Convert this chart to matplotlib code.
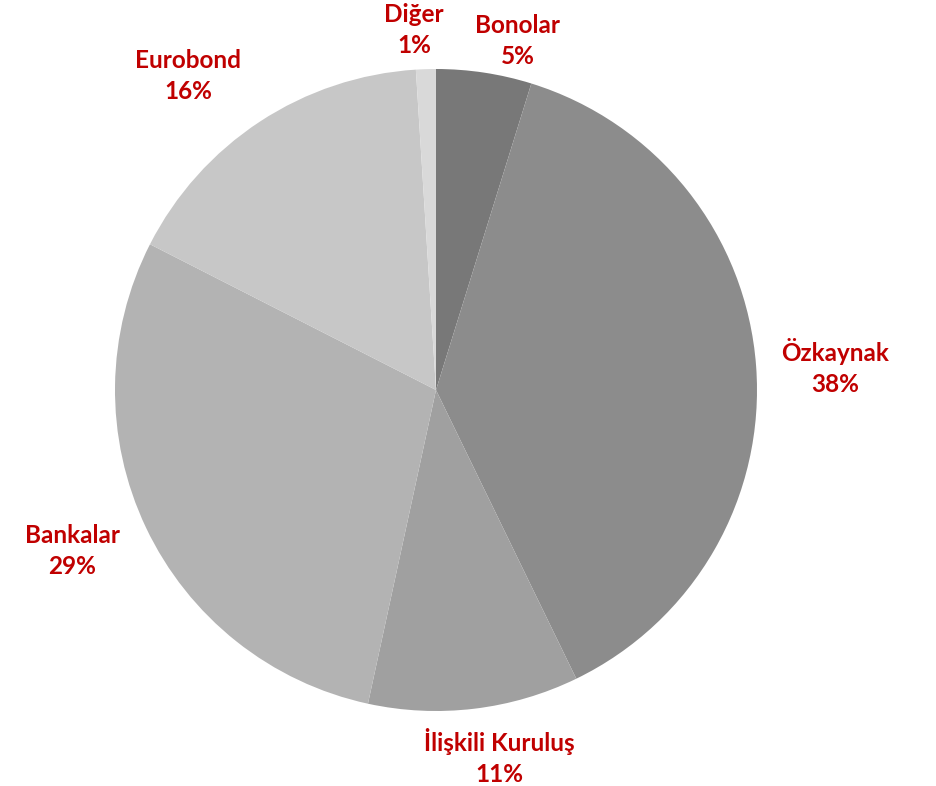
import matplotlib
matplotlib.use("Agg")
import matplotlib.pyplot as plt
import numpy as np

categories = ["Bonolar", "Özkaynak", "İlişkili Kuruluş", "Bankalar", "Eurobond", "Diğer"]
values = [4.8, 38.0, 10.6, 29.1, 16.5, 1.0]
pct_labels = ["5%", "38%", "11%", "29%", "16%", "1%"]
colors = ["#787878", "#8c8c8c", "#a0a0a0", "#b3b3b3", "#c7c7c7", "#d9d9d9"]

# label placement: (distance in radii, angle offset in degrees)
label_place = [(1.116, -4.5), (1.245, -1.0), (1.16, 2.9), (1.24, -1.5), (1.246, 5.0), (1.124, 1.7)]

W, H, DPI = 936, 786, 100
fig = plt.figure(figsize=(W / DPI, H / DPI), dpi=DPI)
ax = fig.add_axes([0, 0, 1, 1])
cx, cy, rpx = 436, 390, 321

wedges, _ = ax.pie(values, colors=colors, startangle=90, counterclock=False,
                   radius=1.0, center=(0, 0), wedgeprops=dict(linewidth=0))

for w, cat, lab, (d, off) in zip(wedges, categories, pct_labels, label_place):
    ang = np.deg2rad((w.theta1 + w.theta2) / 2 + off)
    ax.text(d * np.cos(ang), d * np.sin(ang), f"{cat}\n{lab}",
            ha="center", va="center", color="#c00000", fontsize=17.5,
            fontweight="bold", family=["Lato", "DejaVu Sans"], linespacing=1.4)

ax.set_aspect("auto")
ax.set_xlim(-cx / rpx, (W - cx) / rpx)
ax.set_ylim(-(H - cy) / rpx, cy / rpx)
ax.axis("off")
fig.savefig("out.png", dpi=DPI)
